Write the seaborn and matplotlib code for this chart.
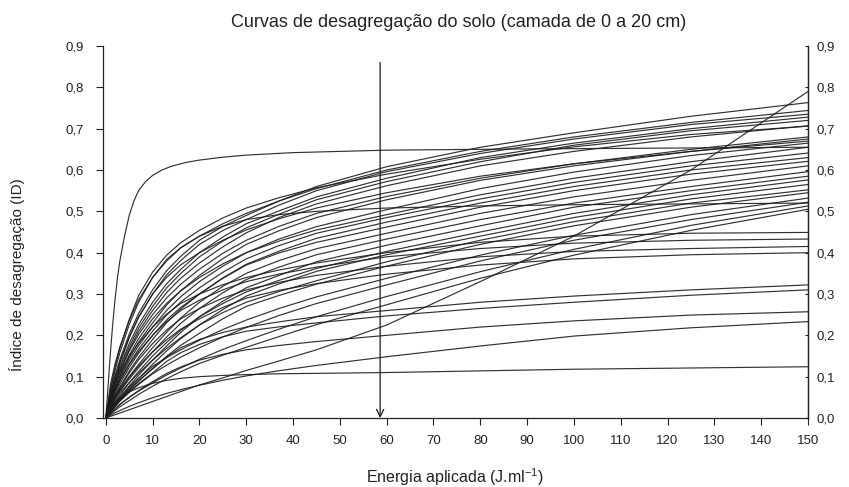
import matplotlib
matplotlib.use("Agg")
import matplotlib.pyplot as plt
import pandas as pd
import seaborn as sns

# ---------------- data ----------------
energy = [0, 1, 2, 3, 5, 7, 10, 13, 16, 20, 25, 30, 37, 45, 60, 80, 100, 125, 150]

# the very fast curve (plateau ~0.65) is read on its own, finer energy grid
energy_fast = [0, .5, 1, 1.5, 2, 2.5, 3, 4, 5, 6, 7, 8.5, 10, 12, 14, 17, 20, 25, 30, 40, 60, 90, 120, 150]
curve_fast = [0, .08, .16, .23, .29, .34, .38, .44, .49, .525, .55, .572, .587, .600, .609, .618,
              .624, .631, .636, .642, .648, .651, .653, .655]

# the accelerating curve that ends at 0.79
curve_exp = [0, .004, .008, .012, .020, .028, .040, .052, .064, .080, .097, .115, .138, .165,
             .225, .330, .440, .600, .790]

group_a = {
    "A1": [0, .07, .125, .168, .238, .296, .353, .394, .424, .454, .484, .508, .533, .557, .590, .626, .656, .686, .706],
    "A2": [0, .082, .132, .172, .236, .286, .34, .38, .4115, .44, .47, .495, .525, .555, .60, .645, .68, .715, .744],
    "A3": [0, .059, .104, .141, .203, .253, .31, .3565, .391, .43, .4635, .49, .525, .56, .608, .655, .69, .73, .763],
    "A4": [0, .057, .10, .135, .195, .243, .30, .3465, .381, .42, .4535, .48, .515, .55, .596, .64, .675, .71, .735],
    "A5": [0, .05, .09, .124, .18, .226, .28, .325, .3595, .40, .438, .47, .501, .535, .58, .63, .665, .70, .728],
    "A6": [0, .048, .086, .118, .172, .217, .27, .315, .3495, .39, .428, .46, .493, .528, .572, .62, .66, .695, .72],
    "A7": [0, .042, .079, .111, .165, .209, .26, .3035, .338, .375, .414, .448, .485, .518, .562, .61, .645, .68, .707],
    "A8": [0, .0525, .0925, .1305, .1945, .2445, .30, .3405, .3705, .40, .43, .455, .482, .508, .545, .585, .615, .645, .67],
    "A9": [0, .066, .116, .158, .226, .28, .34, .3835, .412, .44, .464, .48, .492, .50, .508, .513, .516, .518, .52],
}
group_b = {
    "B1": [0, .046, .082, .112, .162, .202, .25, .2905, .3235, .36, .3985, .43, .4636, .495, .536, .58, .615, .65, .68],
    "B2": [0, .0405, .0725, .0995, .1455, .1835, .23, .2735, .308, .345, .3855, .42, .453, .485, .528, .575, .61, .645, .675],
    "B3": [0, .039, .069, .095, .139, .175, .22, .2605, .2935, .33, .3675, .40, .433, .463, .504, .555, .595, .635, .665],
    "B4": [0, .036, .072, .102, .152, .192, .24, .2775, .3075, .34, .373, .40, .428, .455, .492, .54, .58, .62, .655],
    "B5": [0, .0355, .0645, .0895, .1315, .1665, .21, .249, .2805, .315, .3525, .385, .4172, .447, .485, .53, .57, .61, .641],
    "B6": [0, .0285, .0545, .0755, .1135, .1465, .19, .2305, .2635, .30, .339, .372, .4035, .4347, .474, .52, .56, .60, .63],
    "B7": [0, .0325, .0595, .0825, .1225, .1565, .20, .2375, .2675, .30, .338, .37, .3994, .425, .462, .51, .55, .59, .621],
}
group_c = {
    "C1": [0, .027, .053, .0695, .1005, .1295, .17, .2075, .242, .28, .3185, .35, .3808, .4096, .447, .495, .535, .575, .61],
    "C2": [0, .0243, .0486, .0644, .094, .1216, .16, .196, .229, .265, .303, .335, .365, .395, .433, .48, .52, .56, .596],
    "C3": [0, .0178, .0355, .05, .0774, .1034, .14, .1745, .2069, .245, .2825, .315, .345, .378, .418, .465, .51, .55, .585],
    "C4": [0, .0194, .0389, .0549, .0849, .1125, .15, .183, .2124, .245, .277, .305, .333, .3618, .403, .45, .495, .54, .576],
    "C5": [0, .0168, .0335, .0465, .0715, .0955, .13, .1624, .1921, .225, .2625, .295, .3244, .3548, .395, .44, .485, .53, .565],
    "C6": [0, .022, .042, .0605, .0855, .1085, .14, .1685, .194, .225, .255, .28, .306, .332, .378, .43, .475, .52, .552],
    "C7": [0, .016, .0315, .0435, .0665, .0885, .12, .1494, .1758, .205, .24, .27, .2966, .3238, .3675, .42, .465, .51, .545],
    "C8": [0, .018, .035, .05, .075, .096, .125, .146, .165, .188, .214, .237, .265, .293, .338, .394, .442, .492, .532],
    "C9": [0, .014, .028, .041, .062, .081, .107, .128, .147, .170, .196, .219, .248, .277, .322, .380, .430, .480, .522],
    "C10": [0, .011, .022, .033, .050, .065, .085, .104, .121, .142, .166, .187, .215, .245, .294, .354, .408, .466, .513],
    "C11": [0, .009, .018, .027, .042, .057, .077, .095, .112, .132, .152, .171, .197, .226, .274, .338, .394, .454, .505],
}
group_d = {
    "D1": [0, .049, .085, .109, .149, .181, .22, .2515, .277, .30, .3225, .34, .358, .375, .40, .425, .44, .447, .449],
    "D2": [0, .037, .067, .09, .129, .161, .20, .233, .26, .285, .31, .33, .3482, .365, .39, .41, .423, .43, .433],
    "D3": [0, .027, .051, .072, .109, .141, .18, .213, .24, .265, .29, .31, .3282, .345, .367, .39, .403, .41, .415],
    "D4": [0, .0245, .0475, .0665, .0985, .1255, .16, .1894, .2149, .24, .2675, .29, .309, .325, .348, .37, .385, .395, .40],
}
group_e = {
    "E1": [0, .0165, .0312, .0446, .0688, .0904, .119, .147, .170, .19, .207, .22, .2326, .245, .26, .28, .295, .31, .322],
    "E2": [0, .0152, .0287, .041, .0632, .083, .109, .137, .158, .178, .1965, .21, .2205, .2301, .247, .265, .28, .297, .31],
    "E3": [0, .012, .0228, .0326, .0502, .0662, .088, .1078, .1234, .14, .154, .165, .1755, .185, .20, .22, .235, .249, .257],
    "E4": [0, .0065, .0125, .018, .028, .037, .049, .0595, .0685, .0793, .0913, .1018, .1144, .1272, .1482, .1742, .1982, .2182, .2332],
    "E5": [0, .02, .035, .046, .063, .073, .084, .091, .096, .10, .103, .105, .107, .108, .11, .114, .118, .121, .124],
}

arrow_x = 58.6
arrow_top = 0.86

x_ticks = list(range(0, 151, 10))
y_ticks = [0.0, 0.1, 0.2, 0.3, 0.4, 0.5, 0.6, 0.7, 0.8, 0.9]
y_tick_labels = ["0,0", "0,1", "0,2", "0,3", "0,4", "0,5", "0,6", "0,7", "0,8", "0,9"]

title = "Curvas de desagregação do solo (camada de 0 a 20 cm)"
x_label = "Energia aplicada (J.ml$^{-1}$)"
y_label = "Índice de desagregação (ID)"

# ---------------- build long table ----------------
rows = []
for e, v in zip(energy_fast, curve_fast):
    rows.append({"curve": "fast", "E": e, "ID": v})
curves = {"exp": curve_exp}
for g in (group_a, group_b, group_c, group_d, group_e):
    curves.update(g)
for name, vals in curves.items():
    for e, v in zip(energy, vals):
        rows.append({"curve": name, "E": e, "ID": v})
df = pd.DataFrame(rows)

# ---------------- plot ----------------
sns.set_style("ticks")
plt.rcParams["font.family"] = ["Liberation Sans", "DejaVu Sans"]
plt.rcParams["mathtext.default"] = "regular"

fig = plt.figure(figsize=(8.49, 4.87), dpi=100)
ax = fig.add_axes([103 / 849, 1 - 418 / 487, (808 - 103) / 849, (418 - 46) / 487])

sns.lineplot(data=df, x="E", y="ID", units="curve", estimator=None, sort=False,
             color="#1c1c1c", linewidth=0.85, alpha=0.9, ax=ax, legend=False)

ax.annotate("", xy=(arrow_x, 0.0), xytext=(arrow_x, arrow_top),
            arrowprops=dict(arrowstyle="->", color="#1c1c1c", lw=0.9,
                            mutation_scale=13, shrinkA=0, shrinkB=0))

ax.set_xlim(-0.6, 150)
ax.set_ylim(0, 0.9)
ax.set_xticks(x_ticks)
ax.set_xticklabels([str(t) for t in x_ticks])
ax.set_yticks(y_ticks)
ax.set_yticklabels(y_tick_labels)

for s in ("left", "right", "bottom"):
    ax.spines[s].set_visible(True)
    ax.spines[s].set_linewidth(0.9)
    ax.spines[s].set_color("#222222")
ax.spines["top"].set_visible(False)

ax.tick_params(axis="x", direction="out", length=5, width=0.8, pad=7,
               labelsize=9.5, colors="#222222")
ax.tick_params(axis="y", direction="out", length=5, width=0.8, pad=9,
               labelsize=9.5, colors="#222222")

ax2 = ax.twinx()
ax2.set_ylim(0, 0.9)
ax2.set_yticks(y_ticks)
ax2.set_yticklabels(y_tick_labels)
ax2.tick_params(axis="y", direction="in", length=2, width=0.8, pad=6,
                labelsize=9.5, colors="#222222")
for s in ("left", "top", "bottom"):
    ax2.spines[s].set_visible(False)
ax2.spines["right"].set_linewidth(0.9)
ax2.spines["right"].set_color("#222222")

ax.set_xlabel(x_label, fontsize=11.5, labelpad=14, color="#222222")
ax.set_ylabel(y_label, fontsize=11, color="#222222")
ax.yaxis.set_label_coords(-0.11, 0.385)
ax.set_title(title, fontsize=13, pad=14, x=0.505, color="#222222")

fig.savefig("out.png", dpi=100, facecolor="white")
